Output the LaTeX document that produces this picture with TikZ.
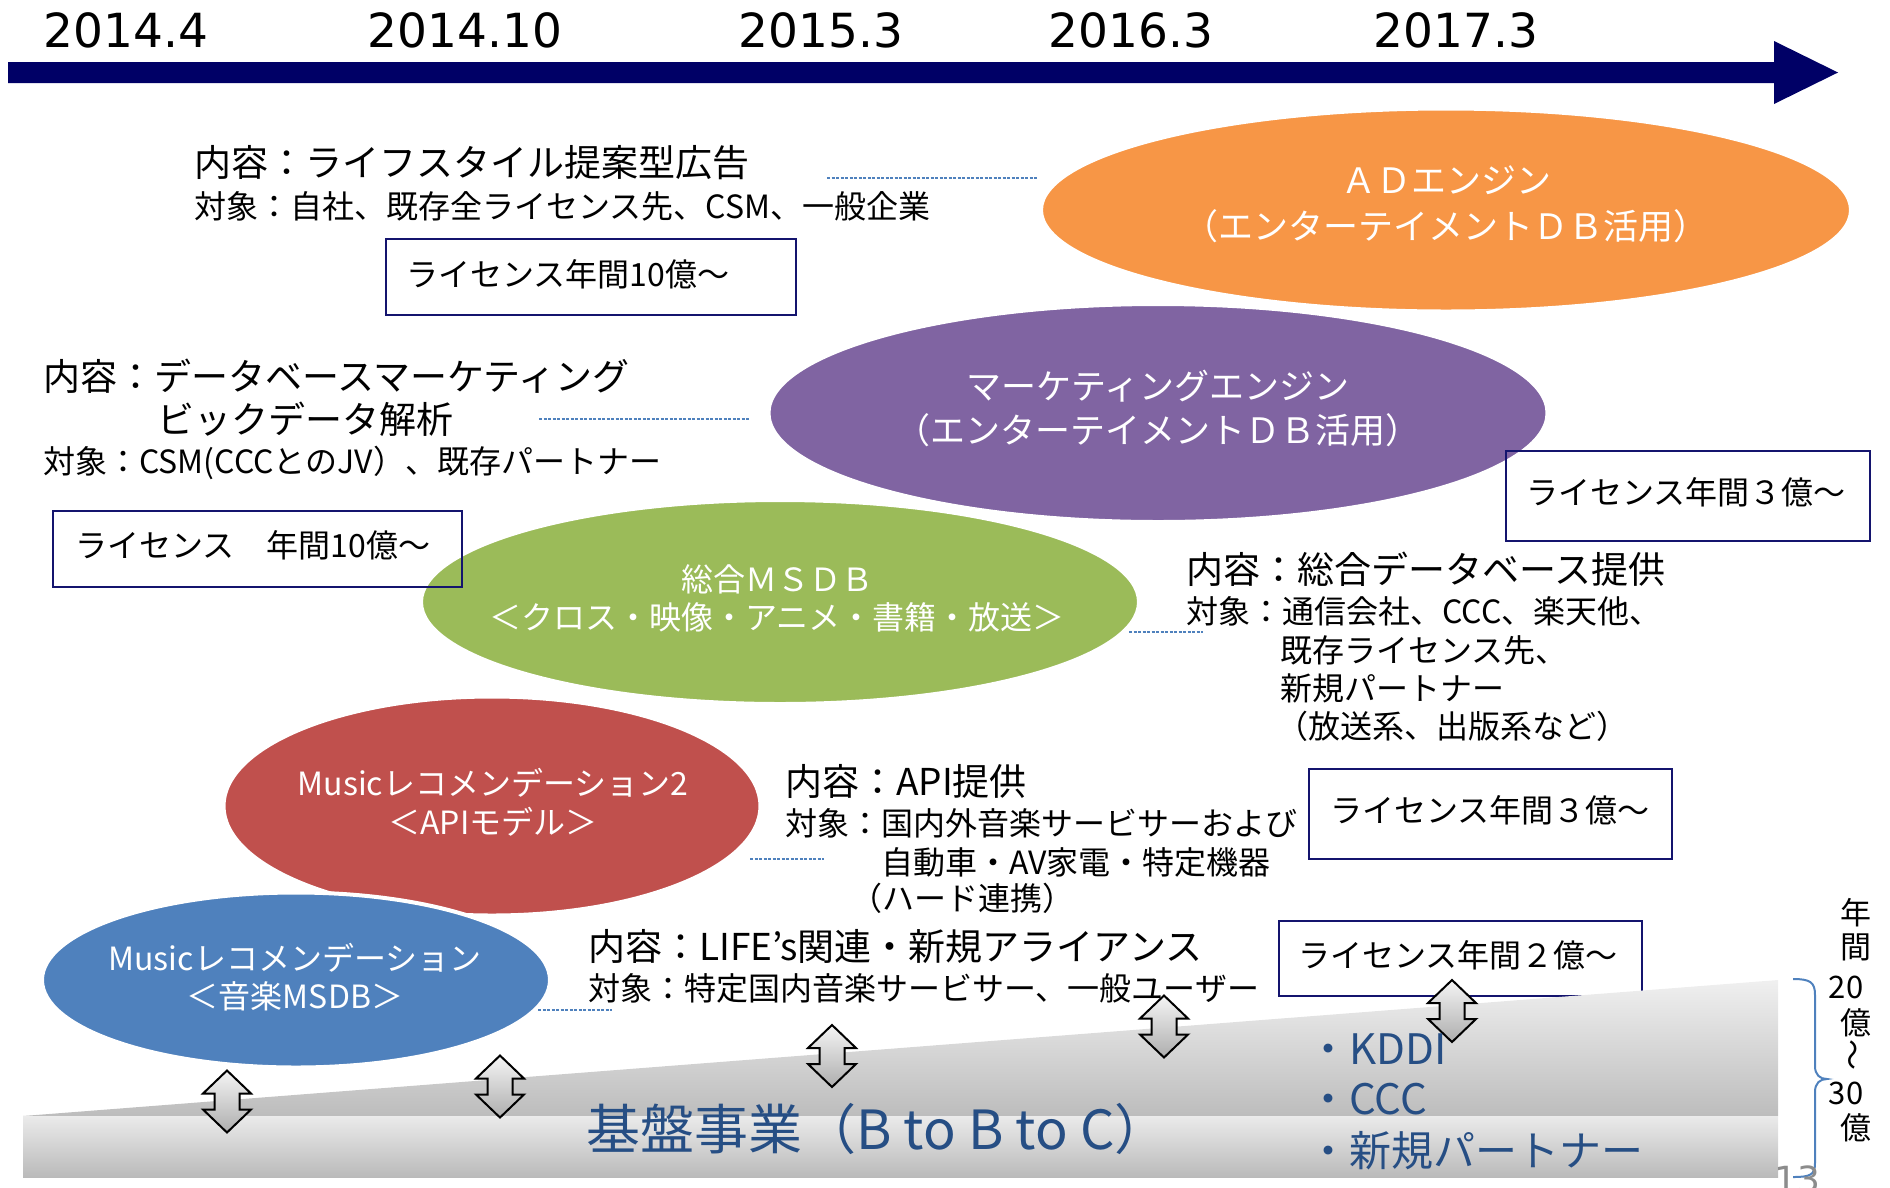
\documentclass[tikz,border=0pt]{standalone}
\usepackage{fontspec}
\newfontfamily\jp{Noto Sans CJK JP}
\newfontfamily\lat{DejaVu Sans}
\usetikzlibrary{shapes.geometric}
\definecolor{navy}{RGB}{0,0,102}
\definecolor{boxnavy}{RGB}{20,20,110}
\definecolor{accorange}{HTML}{F79646}
\definecolor{accpurple}{HTML}{8064A2}
\definecolor{accgreen}{HTML}{9BBB59}
\definecolor{accred}{HTML}{C0504D}
\definecolor{accblue}{HTML}{4F81BD}
\definecolor{basetext}{RGB}{38,78,132}
\tikzset{
  ell/.style={ellipse, draw=white, line width=4pt, inner sep=0pt},
  elltxt/.style={text=white, align=center, inner sep=0pt},
  hone/.style={anchor=west, inner sep=0pt, font=\jp\fontsize{37pt}{44pt}\selectfont},
  htwo/.style={anchor=west, inner sep=0pt, font=\jp\fontsize{32pt}{38pt}\selectfont},
  licbox/.style={draw=boxnavy, line width=2pt, inner sep=0pt},
  lictxt/.style={anchor=west, inner sep=0pt, font=\jp\fontsize{32pt}{38pt}\selectfont},
  conn/.style={draw=accblue, line width=2pt, dash pattern=on 3pt off 1.5pt},
  year/.style={anchor=base, inner sep=0pt, font=\lat\fontsize{47pt}{56pt}\selectfont},
  vtxt/.style={inner sep=0pt, font=\jp\fontsize{31pt}{36pt}\selectfont},
  bullet/.style={anchor=west, inner sep=0pt, text=basetext, font=\jp\fontsize{42pt}{48pt}\selectfont},
  udarr/.pic={\path[draw=black, line width=2pt, top color=black!4, bottom color=black!32]
    (0,-31) -- (24,-8) -- (12.5,-8) -- (12.5,8) -- (24,8) -- (0,31) -- (-24,8)
    -- (-12.5,8) -- (-12.5,-8) -- (-24,-8) -- cycle;}
}
\begin{document}
\begin{tikzpicture}[x=1pt,y=-1pt]
\useasboundingbox (0,0) rectangle (1890,1187);
\clip (0,0) rectangle (1890,1187);

% timeline arrow
\fill[navy] (8,62) -- (1774,62) -- (1774,41) -- (1838,72.5) -- (1774,104) -- (1774,83) -- (8,83) -- cycle;
\node[year] (y1) at (126,47) {2014.4};
\node[year] (y2) at (465,47) {2014.10};
\node[year] (y3) at (821,47) {2015.3};
\node[year] (y4) at (1131,47) {2016.3};
\node[year] (y5) at (1456,47) {2017.3};

% ellipses
\node[ell, fill=accorange, minimum width=810pt, minimum height=203pt] (ad) at (1446,210) {};
\node[ell, fill=accpurple, minimum width=779pt, minimum height=218pt] (mk) at (1158,413) {};
\node[ell, fill=accgreen, minimum width=718pt, minimum height=204pt] (ms) at (780,602) {};
\node[ell, fill=accred, minimum width=537pt, minimum height=219pt] (api) at (492,806) {};
\node[ell, fill=accblue, minimum width=508pt, minimum height=175pt] (mr) at (296,980) {};

\node[elltxt, font=\jp\fontsize{35pt}{46pt}\selectfont] (adt) at (1446,204) {ＡＤエンジン\\（エンターテイメントＤＢ活用）};
\node[elltxt, font=\jp\fontsize{35pt}{44pt}\selectfont] (mkt) at (1158,408) {マーケティングエンジン\\（エンターテイメントＤＢ活用）};
\node[elltxt, font=\jp\fontsize{32pt}{38pt}\selectfont] (mst) at (777,598) {総合ＭＳＤＢ\\＜クロス・映像・アニメ・書籍・放送＞};
\node[elltxt, font=\jp\fontsize{32pt}{39pt}\selectfont] (apit) at (493,802) {Musicレコメンデーション2\\＜APIモデル＞};
\node[elltxt, font=\jp\fontsize{32pt}{38pt}\selectfont] (mrt) at (295,977) {Musicレコメンデーション\\＜音楽MSDB＞};

% description texts
\node[hone] (t1a) at (194,163) {内容：ライフスタイル提案型広告};
\node[htwo] (t1b) at (194,206) {対象：自社、既存全ライセンス先、CSM、一般企業};
\node[hone] (t2a) at (43,376) {内容：データベースマーケティング};
\node[hone] (t2b) at (157,419) {ビックデータ解析};
\node[htwo] (t2c) at (43,463) {対象：CSM(CCCとのJV）、既存パートナー};
\node[hone] (t3a) at (1186,569) {内容：総合データベース提供};
\node[htwo] (t3b) at (1186,611) {対象：通信会社、CCC、楽天他、};
\node[htwo] (t3c) at (1280,650) {既存ライセンス先、};
\node[htwo] (t3d) at (1280,688) {新規パートナー};
\node[htwo] (t3e) at (1276,726) {（放送系、出版系など）};
\node[hone] (t4a) at (785,781) {内容：API提供};
\node[htwo] (t4b) at (785,823) {対象：国内外音楽サービサーおよび};
\node[htwo] (t4c) at (881,862) {自動車・AV家電・特定機器};
\node[htwo] (t4d) at (850,898) {（ハード連携）};
\node[hone] (t5a) at (588,946) {内容：LIFE’s関連・新規アライアンス};
\node[htwo] (t5b) at (588,988) {対象：特定国内音楽サービサー、一般ユーザー};

% license boxes
\node[licbox, minimum width=410pt, minimum height=76pt] (b1) at (591,277) {};
\node[lictxt] (b1t) at (406,274) {ライセンス年間10億～};
\node[licbox, minimum width=409pt, minimum height=76pt] (b2) at (257.5,549) {};
\node[lictxt] (b2t) at (75,545) {ライセンス　年間10億～};
\node[licbox, minimum width=364pt, minimum height=90pt] (b3) at (1688,496) {};
\node[lictxt] (b3t) at (1526,492) {ライセンス年間３億～};
\node[licbox, minimum width=363pt, minimum height=90pt] (b4) at (1490.5,814) {};
\node[lictxt] (b4t) at (1330,810) {ライセンス年間３億～};
\node[licbox, minimum width=363pt, minimum height=75pt] (b5) at (1460.5,958.5) {};
\node[lictxt] (b5t) at (1298,955) {ライセンス年間２億～};

% dashed connectors
\coordinate (d1a) at (827,178); \coordinate (d1b) at (1037,178);
\coordinate (d2a) at (539,419); \coordinate (d2b) at (750,419);
\coordinate (d3a) at (1129,632); \coordinate (d3b) at (1203,632);
\coordinate (d4a) at (750,859); \coordinate (d4b) at (824,859);
\coordinate (d5a) at (538,1010); \coordinate (d5b) at (612,1010);
\draw[conn] (d1a) -- (d1b);
\draw[conn] (d2a) -- (d2b);
\draw[conn] (d3a) -- (d3b);
\draw[conn] (d4a) -- (d4b);
\draw[conn] (d5a) -- (d5b);

% base business
\path[top color=black!6, bottom color=black!26] (23,1116) -- (1778,980) -- (1778,1116) -- cycle;
\path[top color=black!8, bottom color=black!27] (23,1116) rectangle (1778,1177);

\pic (ar1) at (227,1101.5) {udarr};
\pic (ar2) at (500,1086.5) {udarr};
\pic (ar3) at (832,1056) {udarr};
\pic (ar4) at (1164,1026.5) {udarr};
\pic (ar5) at (1452,1011) {udarr};

\node[anchor=west, inner sep=0pt, text=basetext, font=\jp\fontsize{54pt}{60pt}\selectfont] (base) at (586,1129) {基盤事業（B to B to C）};
\node[bullet] (k1) at (1307,1049) {・KDDI};
\node[bullet] (k2) at (1307,1099) {・CCC};
\node[bullet] (k3) at (1307,1151) {・新規パートナー};

% brace and vertical text
\draw[accblue, line width=2pt] (1793,979) .. controls (1810,979) and (1815,982) .. (1815,995) -- (1815,1066)
  .. controls (1815,1075) and (1820,1079) .. (1827,1079) .. controls (1820,1079) and (1815,1083) .. (1815,1092)
  -- (1815,1163) .. controls (1815,1175) and (1810,1177) .. (1793,1177);
\node[vtxt] (v1) at (1856,913) {年};
\node[vtxt] (v2) at (1856,947) {間};
\node[vtxt] (v3) at (1846,987) {20};
\node[vtxt] (v4) at (1856,1023) {億};
\node[vtxt, rotate=90] (v5) at (1856,1055) {～};
\node[vtxt] (v6) at (1846,1093) {30};
\node[vtxt] (v7) at (1856,1128) {億};
\node[anchor=base, inner sep=0pt, text=black!45, font=\lat\fontsize{36pt}{40pt}\selectfont] (pg) at (1797,1192) {13};
\end{tikzpicture}
\end{document}
